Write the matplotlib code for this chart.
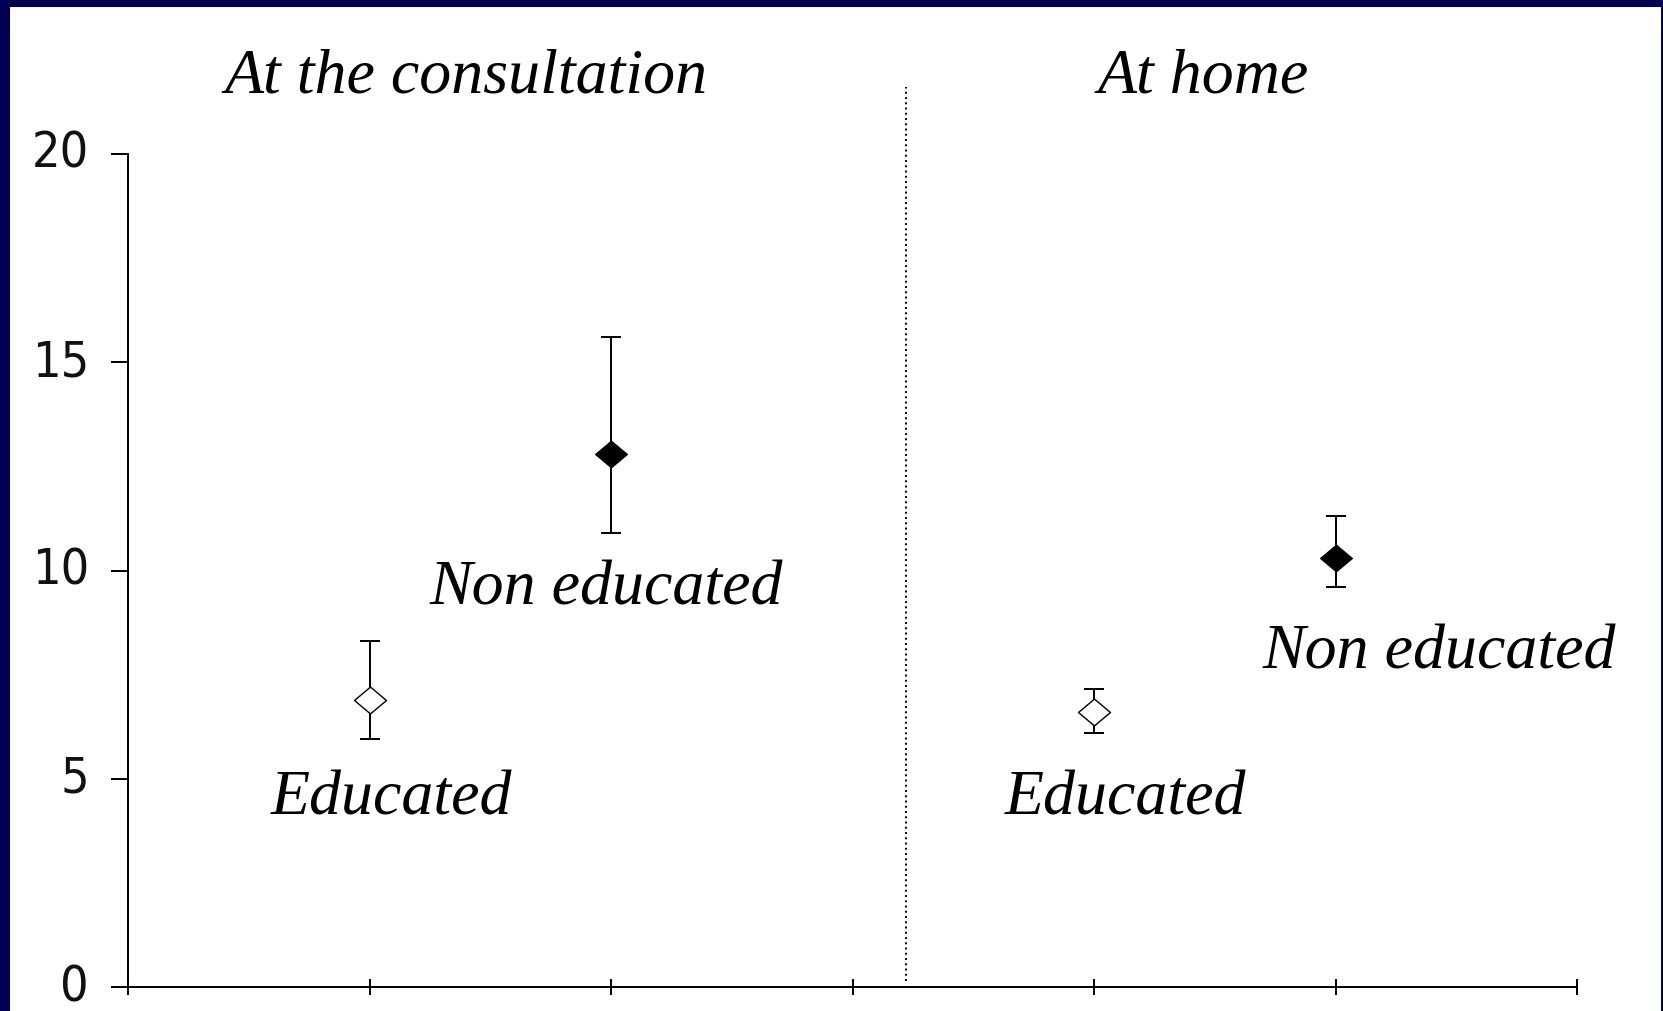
import matplotlib
matplotlib.use("Agg")
import matplotlib.pyplot as plt
import matplotlib.transforms as mtransforms
from matplotlib import font_manager
from matplotlib.patches import Rectangle
from matplotlib.path import Path
import numpy as np

# Mean score with lower / upper error limits, per group and setting
GROUPS = ["Educated", "Non educated", "Educated", "Non educated"]
SETTINGS = ["At the consultation", "At home"]
X_POS = [1, 2, 4, 5]
MEANS = [6.9, 12.8, 6.6, 10.3]
LOWER = [5.95, 10.9, 6.1, 9.6]
UPPER = [8.3, 15.6, 7.15, 11.3]
FILLED = [False, True, False, True]

Y_TICKS = [0, 5, 10, 15, 20]

# narrow face for the tick numbers, if one is installed
_faces = [(f.name, f.stretch) for f in font_manager.fontManager.ttflist]
if any(n == "Liberation Sans Narrow" for n, _ in _faces):
    TICK_FONT = dict(family="Liberation Sans Narrow", size=40)
elif any(n == "DejaVu Sans" and s == "condensed" for n, s in _faces):
    TICK_FONT = dict(family="DejaVu Sans", stretch="condensed", size=36)
else:
    TICK_FONT = dict(family="DejaVu Sans", size=31)

W, H = 1663, 1011
fig = plt.figure(figsize=(W / 100, H / 100), dpi=100)
fig.patch.set_facecolor("#000050")
# white slide area inside the navy frame
fig.patches.append(Rectangle((10 / W, 0), (1661 - 10) / W, (1004) / H,
                             transform=fig.transFigure, facecolor="white",
                             edgecolor="none", zorder=-5))

ax = fig.add_axes([128 / W, (H - 987) / H, (1577 - 128) / W, (987 - 154) / H])
ax.set_facecolor("none")
ax.set_xlim(0, 6)
ax.set_ylim(0, 20)

for s in ["top", "right"]:
    ax.spines[s].set_visible(False)
for s in ["left", "bottom"]:
    ax.spines[s].set_linewidth(1.4)

ax.set_xticks(range(7))
ax.set_xticklabels([])
ax.tick_params(axis="x", direction="inout", length=12, width=1.4)
ax.set_yticks(Y_TICKS)
ax.set_yticklabels([str(v) for v in Y_TICKS])
ax.tick_params(axis="y", direction="out", length=12, width=1.4, pad=16)
for lab in ax.get_yticklabels():
    lab.set_fontproperties(font_manager.FontProperties(**TICK_FONT))
    lab.set_color("#111111")
    lab.set_transform(lab.get_transform() +
                      mtransforms.ScaledTranslation(0, 5 / 100, fig.dpi_scale_trans))

# slightly wide diamond marker
diamond = Path([(-1.0, 0), (0, 0.84), (1.0, 0), (0, -0.84), (-1.0, 0)],
               [Path.MOVETO, Path.LINETO, Path.LINETO, Path.LINETO, Path.CLOSEPOLY])

for x, m, lo, hi, filled in zip(X_POS, MEANS, LOWER, UPPER, FILLED):
    ax.errorbar([x], [m], yerr=[[m - lo], [hi - m]], fmt="none",
                ecolor="black", elinewidth=1.4, capsize=7.2, capthick=1.4, zorder=3)
    ax.plot([x], [m], marker=diamond, markersize=23,
            markerfacecolor="black" if filled else "white",
            markeredgecolor="black", markeredgewidth=1.0 if not filled else 0.8,
            linestyle="none", zorder=4, clip_on=False)

# separator between the two settings
ax.vlines(3.22, 0.15, 21.6, colors="black", linewidth=1.4,
          linestyles=(0, (1, 1.7)), clip_on=False)

serif = ["Liberation Serif", "DejaVu Serif"]
ax.text(1.40, 21.83, SETTINGS[0], ha="center", va="center", fontsize=46,
        style="italic", family=serif, clip_on=False)
ax.text(4.45, 21.83, SETTINGS[1], ha="center", va="center", fontsize=46,
        style="italic", family=serif, clip_on=False)

LABEL_XY = [(1.09, 4.5), (1.98, 9.55), (4.13, 4.5), (5.43, 8.0)]
for (lx, ly), g in zip(LABEL_XY, GROUPS):
    ax.text(lx, ly, g, ha="center", va="center", fontsize=46,
            style="italic", family=serif, clip_on=False)

fig.savefig("out.png", dpi=100, facecolor=fig.get_facecolor())
